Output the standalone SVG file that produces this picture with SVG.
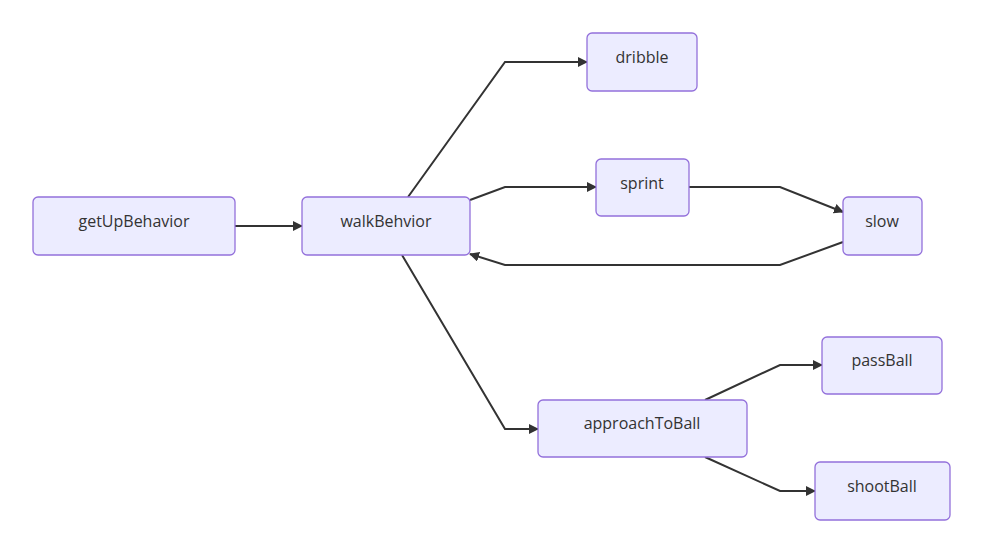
<svg xmlns="http://www.w3.org/2000/svg" width="984" height="540" viewBox="0 0 984 540">
<defs>
<marker id="ah" viewBox="0 0 10 10" refX="9" refY="5" markerWidth="10" markerHeight="10" orient="auto" markerUnits="userSpaceOnUse"><path d="M0,0L10,5L0,10z" fill="#333"/></marker>
<style>
.n rect{fill:#ECECFF;stroke:#9370DB;stroke-width:1.3}
.n text{font-family:"Open Sans","Liberation Sans",sans-serif;font-size:16px;fill:#333;text-anchor:middle;dominant-baseline:central}
.e path{fill:none;stroke:#333;stroke-width:2;marker-end:url(#ah)}
</style>
</defs>
<rect width="984" height="540" fill="#fff"/>
<g id="connectors" class="e">
<path d="M235,226L302,226"/>
<path d="M408,197L505,62L587,62"/>
<path d="M470,200L505,187L596,187"/>
<path d="M689,187L780,187L843,212"/>
<path d="M843,242L780,265L505,265L470,254"/>
<path d="M402,255L505,429L538,429"/>
<path d="M705,400L780,365L822,365"/>
<path d="M705,457L780,491L815,491"/>
</g>
<g id="getUpBehavior" class="n"><rect x="33" y="197" width="202" height="58" rx="5"/><text x="134" y="221">getUpBehavior</text></g>
<g id="walkBehvior" class="n"><rect x="302" y="197" width="168" height="58" rx="5"/><text x="386" y="221">walkBehvior</text></g>
<g id="dribble" class="n"><rect x="587" y="33" width="110" height="58" rx="5"/><text x="642" y="57">dribble</text></g>
<g id="sprint" class="n"><rect x="596" y="159" width="93" height="57" rx="5"/><text x="642" y="183">sprint</text></g>
<g id="slow" class="n"><rect x="843" y="197" width="79" height="58" rx="5"/><text x="882" y="221">slow</text></g>
<g id="approachToBall" class="n"><rect x="538" y="400" width="209" height="57" rx="5"/><text x="642" y="423">approachToBall</text></g>
<g id="passBall" class="n"><rect x="822" y="337" width="120" height="57" rx="5"/><text x="882" y="360">passBall</text></g>
<g id="shootBall" class="n"><rect x="815" y="462" width="135" height="58" rx="5"/><text x="882" y="486">shootBall</text></g>
</svg>
